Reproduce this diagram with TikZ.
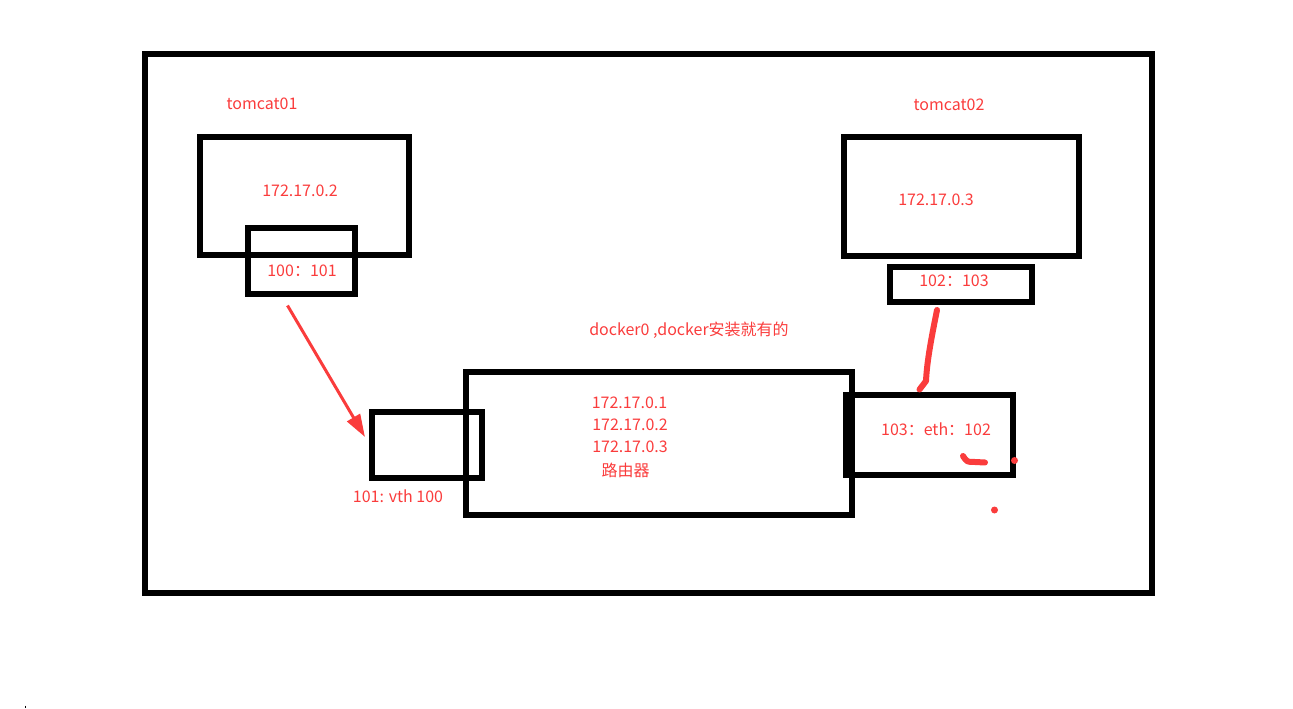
\documentclass[tikz,border=0pt]{standalone}
\usepackage{fontspec}
\setmainfont{Noto Sans CJK SC}
\usetikzlibrary{arrows.meta,calc}
\definecolor{penred}{RGB}{250,60,60}
\tikzset{
  box/.style={draw,line width=4.5pt,inner sep=0pt,outer sep=0pt},
  lbl/.style={text=penred,inner sep=0.75pt,font=\fontsize{12pt}{14pt}\selectfont},
  redpen/.style={draw=penred,line width=4.5pt,line cap=round,line join=round}
}
\begin{document}
\begin{tikzpicture}[x=0.75pt,y=0.75pt,yscale=-1,xscale=1]
\useasboundingbox (0,0) rectangle (1293,709);

% Host frame
\node [box,minimum width=755.25pt,minimum height=404.25pt] (host) at (648.5,323.5) {};

% Containers
\node [box,minimum width=156.75pt,minimum height=88.5pt] (tc1) at (304.5,196.5) {};
\node [box,minimum width=80.25pt,minimum height=49.5pt] (veth1) at (301,261.5) {};
\node [box,minimum width=176.25pt,minimum height=89.25pt] (tc2) at (961.5,196.5) {};
\node [box,minimum width=106.5pt,minimum height=26.25pt] (veth2) at (961,284.5) {};

% Bridge and its ports
\node [box,minimum width=289.5pt,minimum height=106.875pt] (docker0) at (659,443.75) {};
\node [box,minimum width=82.5pt,minimum height=49.5pt] (vth) at (427,445) {};
\node [box,minimum width=125.25pt,minimum height=59.625pt] (eth) at (929.5,435.25) {};

% Text Nodes
\node [lbl] (tc1name) at (262,104) {tomcat01};
\node [lbl] (tc1ip) at (300,190.5) {172.17.0.2};
\node [lbl] (veth1lbl) at (302,271) {100：101};

\node [lbl] (tc2name) at (949,104.5) {tomcat02};
\node [lbl] (tc2ip) at (936,200) {172.17.0.3};
\node [lbl] (veth2lbl) at (954,281) {102：103};

\node [lbl] (dockertitle) at (689,330) {docker0 ,docker安装就有的};
\node [lbl] (gw1) at (629.5,403) {172.17.0.1};
\node [lbl] (gw2) at (630,425) {172.17.0.2};
\node [lbl] (gw3) at (630,447) {172.17.0.3};
\node [lbl] (router) at (625.5,470) {路由器};

\node [lbl] (vthlbl) at (398,496.5) {101: vth 100};
\node [lbl] (ethlbl) at (936,429.5) {103：eth：102};

% Connectors
\draw [penred,line width=2.25pt,-{Triangle[length=17pt,width=11pt]}]
  ($(veth1.south west)+(40,11)$) -- ($(vth.west)+(-7,-8)$);

\draw [redpen] ($(veth2.south)+(-24,8)$) .. controls (932,335) and (927,360) .. (926,381)
  -- ($(eth.north)+(-10,-6)$);

% Scribbles
\draw [redpen] (963,456) .. controls (967,462) .. (975,462) -- (985,462.5);
\fill [penred] (1014.5,460.5) circle (3.5);
\fill [penred] (994.5,510) circle (3.5);
\draw [line width=0.75pt] (25,705.5) -- (25,708);

\end{tikzpicture}
\end{document}
